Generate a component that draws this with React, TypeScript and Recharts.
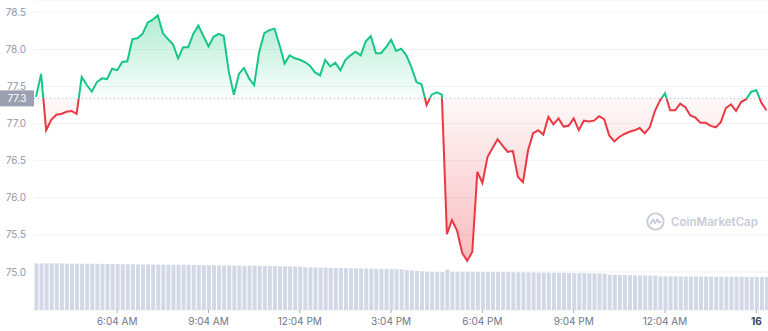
import React from "react";
import { ComposedChart, Area, Bar, XAxis, YAxis, CartesianGrid, ReferenceLine } from "recharts";

// Price samples every 10 minutes starting 3:24 AM
const PRICES = [
  77.36, 77.67, 76.91, 77.05, 77.12, 77.13, 77.16, 77.17, 77.13, 77.63,
  77.52, 77.43, 77.56, 77.61, 77.6, 77.74, 77.72, 77.83, 77.84, 78.14,
  78.15, 78.21, 78.36, 78.4, 78.46, 78.22, 78.14, 78.07, 77.88, 78.03,
  78.03, 78.21, 78.32, 78.18, 78.04, 78.17, 78.21, 78.18, 77.7, 77.39,
  77.67, 77.75, 77.61, 77.52, 77.97, 78.22, 78.26, 78.28, 78.06, 77.81,
  77.92, 77.88, 77.86, 77.83, 77.78, 77.69, 77.65, 77.86, 77.77, 77.82,
  77.72, 77.86, 77.92, 77.97, 77.92, 78.11, 78.18, 77.95, 77.95, 78.03,
  78.13, 77.98, 78.01, 77.92, 77.76, 77.56, 77.53, 77.25, 77.39, 77.42,
  77.39, 75.51, 75.7, 75.56, 75.26, 75.15, 75.27, 76.35, 76.2, 76.55,
  76.67, 76.79, 76.7, 76.62, 76.63, 76.28, 76.21, 76.64, 76.87, 76.91,
  76.85, 77.09, 76.99, 77.07, 76.96, 76.97, 77.07, 76.91, 77.04, 77.03,
  77.04, 77.1, 77.06, 76.84, 76.76, 76.82, 76.86, 76.89, 76.91, 76.94,
  76.87, 76.95, 77.17, 77.31, 77.41, 77.18, 77.18, 77.27, 77.22, 77.11,
  77.08, 77.01, 77.01, 76.97, 76.95, 77.02, 77.21, 77.26, 77.17, 77.29,
  77.33, 77.43, 77.45, 77.28, 77.18,
];

const VOLUMES = [
  465, 466, 464, 466, 467, 465, 464, 463, 464, 463, 462, 463, 461, 462, 461, 460, 460,
  458, 457, 458, 456, 455, 456, 455, 454, 455, 453, 452, 453, 452, 451, 450, 449,
  448, 447, 448, 446, 445, 446, 445, 444, 443, 444, 443, 442, 441, 440, 439, 438, 437, 436, 434, 432,
  428, 427, 426, 425, 424, 422, 421, 420, 419, 418, 417, 416, 415, 414, 413, 412, 411, 409, 408, 407,
  400, 395, 390, 386, 383, 381, 380, 380,
  405,
  383, 383, 382, 382, 381, 381, 380, 380, 379, 379, 378, 378, 377, 377, 376,
  375, 375, 374, 374, 373, 372, 372, 371, 370, 369, 368, 368, 367, 366, 365, 364,
  352, 351, 350, 350, 349, 348, 347, 346, 345, 344,
  337, 336, 337, 335, 336, 334, 335, 334, 333, 334, 333, 332, 333, 332, 331, 332, 331, 330, 331, 330, 330, 329,
];

const TICK_INDEX = [16, 34, 52, 70, 88, 106, 124, 142];
const TICK_LABELS = ["6:04 AM", "9:04 AM", "12:04 PM", "3:04 PM", "6:04 PM", "9:04 PM", "12:04 AM", "16"];
const Y_TICKS = [75, 75.5, 76, 76.5, 77, 77.5, 78, 78.5];
const BASELINE = 77.34;

const GREEN = "#16c784";
const RED = "#ea3943";

const data = PRICES.map((p, i) => ({ i, price: p, volume: VOLUMES[i] }));
const maxP = Math.max(...PRICES);
const minP = Math.min(...PRICES);
const off = (maxP - BASELINE) / (maxP - minP);

const XTick = (props: any) => {
  const { x, y, payload } = props;
  const idx = TICK_INDEX.indexOf(payload.value);
  const label = idx >= 0 ? TICK_LABELS[idx] : "";
  const bold = label === "16";
  return (
    <text
      x={x}
      y={y}
      dy="0.71em"
      textAnchor="middle"
      fontFamily="Inter, sans-serif"
      fontSize={10}
      fontWeight={bold ? 700 : 400}
      fill={bold ? "#3a4050" : "#6f7689"}
    >
      {label}
    </text>
  );
};

const YTick = (props: any) => {
  const { x, y, payload } = props;
  return (
    <text
      x={x}
      y={y}
      dy="0.355em"
      textAnchor="end"
      fontFamily="Inter, sans-serif"
      fontSize={10}
      fill="#9097a8"
    >
      {Number(payload.value).toFixed(1)}
    </text>
  );
};

const BaseLabel = (props: any) => {
  const vb = props.viewBox || {};
  const x0 = (vb.x ?? 34) - 34;
  const yc = vb.y ?? 0;
  return (
    <g>
      <rect x={x0} y={yc - 8} width={34} height={16} fill="#9aa0b0" />
      <text
        x={x0 + 17}
        y={yc}
        dy="0.355em"
        textAnchor="middle"
        fontFamily="Inter, sans-serif"
        fontSize={10}
        fill="#ffffff"
      >
        {BASELINE.toFixed(1)}
      </text>
    </g>
  );
};

export default function App() {
  return (
    <div style={{ position: "absolute", left: 0, top: 0, width: 768, height: 331, background: "#fff" }}>
      <ComposedChart width={768} height={331} data={data} margin={{ top: 0, right: 0, bottom: 0, left: 0 }}>
        <defs>
          <linearGradient id="lineGrad" x1="0" y1="0" x2="0" y2="1">
            <stop offset={0} stopColor={GREEN} />
            <stop offset={off} stopColor={GREEN} />
            <stop offset={off} stopColor={RED} />
            <stop offset={1} stopColor={RED} />
          </linearGradient>
          <linearGradient id="fillGrad" x1="0" y1="0" x2="0" y2="1">
            <stop offset={0} stopColor={GREEN} stopOpacity={0.34} />
            <stop offset={off} stopColor={GREEN} stopOpacity={0.02} />
            <stop offset={off} stopColor={RED} stopOpacity={0.03} />
            <stop offset={1} stopColor={RED} stopOpacity={0.34} />
          </linearGradient>
        </defs>
        <CartesianGrid yAxisId="price" horizontal vertical={false} stroke="#eff2f5" />
        <XAxis
          dataKey="i"
          type="number"
          domain={[-0.4, 144.3]}
          allowDataOverflow
          ticks={TICK_INDEX}
          height={21}
          axisLine={false}
          tickSize={3}
          tickMargin={5}
          tickLine={{ stroke: "#a6adbd" }}
          tick={<XTick />}
          interval={0}
        />
        <YAxis
          yAxisId="price"
          domain={[74.488, 78.666]}
          allowDataOverflow
          ticks={Y_TICKS}
          width={34}
          axisLine={false}
          tickLine={false}
          tick={<YTick />}
          interval={0}
        />
        <YAxis yAxisId="vol" domain={[0, 3100]} hide allowDataOverflow />
        <Bar yAxisId="vol" dataKey="volume" fill="#d3d8e7" barSize={4} isAnimationActive={false} />
        <Area
          yAxisId="price"
          type="linear"
          dataKey="price"
          baseValue={BASELINE}
          stroke="url(#lineGrad)"
          strokeWidth={2}
          fill="url(#fillGrad)"
          fillOpacity={1}
          dot={false}
          activeDot={false}
          isAnimationActive={false}
        />
        <ReferenceLine
          yAxisId="price"
          y={BASELINE}
          stroke="#a9b0c0"
          strokeDasharray="1 3"
          label={<BaseLabel />}
        />
      </ComposedChart>
      <div
        style={{
          position: "absolute",
          left: 646,
          top: 212,
          display: "flex",
          alignItems: "center",
          gap: 6,
          color: "#c7ccd8",
          fontFamily: "Inter, sans-serif",
          fontWeight: 600,
          fontSize: 11.5,
          whiteSpace: "nowrap",
        }}
      >
        <svg width={19} height={19} viewBox="0 0 20 20">
          <circle cx={10} cy={10} r={8.6} fill="none" stroke="#c7ccd8" strokeWidth={2} />
          <path d="M4.8 12.6 L7.4 7.6 L9.6 12 L12 7.4 L13.6 11.2 L15.4 10.4" fill="none" stroke="#c7ccd8" strokeWidth={1.8} strokeLinejoin="round" strokeLinecap="round" />
        </svg>
        <span>CoinMarketCap</span>
      </div>
    </div>
  );
}
